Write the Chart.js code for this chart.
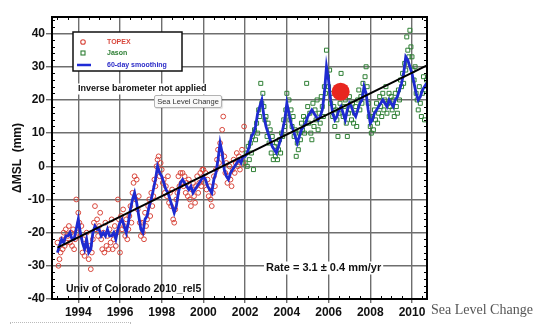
<!DOCTYPE html>
<html>
<head>
<meta charset="utf-8">
<script src="https://cdn.jsdelivr.net/npm/chart.js@4.4.1/dist/chart.umd.min.js"></script>
<style>
  html, body { margin: 0; padding: 0; background: #fff; }
  #wrap { position: relative; width: 540px; height: 325px; overflow: hidden; }
  #msl { position: absolute; left: 0; top: 0; }
  #tip { position: absolute; left: 154px; top: 95px; width: 66px; height: 11px; border: 1px solid #b3b3b3; border-radius: 2px;
         background: #f9f9f9; font: 7.5px "Liberation Sans", Arial, sans-serif; color: #333; line-height: 11px; text-align: center;
         box-shadow: 1px 1px 1px rgba(0,0,0,0.12); white-space: nowrap; }
  #caption { position: absolute; left: 431px; top: 302px; font: 14px "Liberation Serif", "DejaVu Serif", serif; color: #555;
             line-height: 16px; white-space: nowrap; }
  #dots { position: absolute; left: 10px; top: 322px; width: 119px; height: 20px; border: 1px dotted #bbb; }
</style>
</head>
<body>
<div id="wrap">
  <canvas id="msl" width="540" height="325"></canvas>
  <div id="tip">Sea Level Change</div>
  <div id="caption">Sea Level Change</div>
  <div id="dots"></div>
</div>
<script>
// Global mean sea level change (mm), TOPEX and Jason altimetry, 1993–2010.

// Altimeter samples: one value every 0.05 yr.
const sampleStep = 0.05;

const topexStart = 1993.0;
const topexMSL = [
  // 1993
  -23, -30, -28, -26, -22, -25, -20, -24, -19, -23, -21, -18, -23, -20, -24, -19, -25, -22, -10, -20,
  // 1994
  -14, -17, -21, -18, -26, -22, -27, -24, -20, -25, -28, -24, -31, -26, -22, -17, -12, -19, -16, -21,
  // 1995
  -18, -14, -22, -25, -20, -26, -17, -24, -21, -25, -19, -23, -16, -25, -22, -18, -24, -20, -10, -16,
  // 1996
  -26, -15, -19, -13, -18, -21, -16, -22, -19, -15, -12, -17, -8, -5, -3, -10, -4, -13, -9, -17,
  // 1997
  -21, -17, -20, -22, -14, -18, -16, -12, -10, -15, -8, -12, -9, -4, -6, 0, 2, 3, -3, 1,
  // 1998
  -1, -5, -4, -8, -6, -9, -3, -11, -8, -12, -7, -16, -17, -13, -10, -8, -3, -6, -2, -5,
  // 1999
  -2, -6, -3, -8, -5, -9, -4, -10, -12, -7, -5, -9, -11, -6, -3, -8, -5, -2, -6, -1,
  // 2000
  -1, -5, -2, -7, -4, -9, -6, -10, -12, -8, -3, -6, -1, 2, 5, 1, 7, 4, 11, 15,
  // 2001
  3, -2, 1, -5, -3, 0, -4, -6, -1, 2, -2, 1, 4, 0, 3, -1, 2, 5, 1, 12
];

const jasonStart = 2002.0;
const jasonMSL = [
  // 2002
  1, 4, 0, 6, 2, 7, 4, 9, -1, 11, 8, 13, 10, 17, 15, 25, 19, 22, 18, 14,
  // 2003
  15, 9, 13, 7, 11, 4, 9, 2, 6, 3, 7, 2, 5, 8, 4, 10, 9, 14, 12, 17,
  // 2004
  22, 16, 20, 14, 17, 12, 15, 9, 11, 3, 7, 5, 10, 8, 13, 11, 15, 10, 14, 25,
  // 2005
  18, 13, 16, 10, 8, 19, 12, 17, 14, 20, 11, 16, 13, 21, 18, 15, 24, 22, 35, 27,
  // 2006
  24, 29, 19, 22, 15, 18, 12, 17, 14, 9, 16, 19, 28, 21, 15, 18, 20, 13, 9, 16,
  // 2007
  21, 17, 14, 19, 13, 16, 18, 12, 20, 23, 17, 21, 19, 25, 22, 27, 30, 24, 19, 15,
  // 2008
  12, 10, 15, 11, 17, 14, 19, 13, 16, 21, 18, 15, 22, 17, 20, 24, 16, 19, 22, 18,
  // 2009
  21, 17, 20, 15, 22, 18, 16, 23, 20, 26, 24, 28, 25, 31, 29, 39, 35, 33, 41, 36,
  // 2010
  33, 29, 26, 30, 22, 20, 17, 24, 19, 15, 22, 27, 14, 23, 26
];

// 60-day smoothed series, one value every 0.1 yr from 1993.0.
const smoothStart = 1993.0;
const smoothStep = 0.1;
const smoothMSL = [
  -26, -24, -22, -23, -21, -21, -20, -22, -22, -19,   // 1993
  -16, -20, -23, -25, -22, -26, -25, -20, -18, -19,   // 1994
  -19, -21, -20, -21, -19, -21, -21, -20, -22, -19,   // 1995
  -17, -16, -18, -20, -17, -13, -10, -8, -11, -15,    // 1996
  -19, -20, -16, -15, -12, -10, -7, -4, 0, -2,        // 1997
  -3, -5, -7, -8, -10, -12, -14, -12, -8, -5,         // 1998
  -4, -5, -6, -7, -6, -8, -7, -6, -5, -4,             // 1999
  -3, -4, -6, -7, -8, -4, -2, 2, 7, 4,                // 2000
  -1, -3, -4, -2, -1, 0, 1, 2, 1, 3,                  // 2001
  3, 4, 6, 9, 10, 12, 16, 18, 20, 15,                 // 2002
  12, 10, 8, 6, 5, 4, 6, 8, 11, 14,                   // 2003
  19, 16, 13, 11, 9, 7, 9, 11, 12, 13,                // 2004
  15, 16, 17, 16, 15, 14, 15, 17, 22, 30,             // 2005
  26, 20, 16, 14, 15, 17, 18, 16, 14, 17,             // 2006
  19, 18, 16, 15, 17, 19, 20, 24, 22, 17,             // 2007
  13, 14, 16, 17, 18, 19, 20, 19, 18, 20,             // 2008
  19, 18, 20, 21, 23, 25, 28, 33, 32, 30,             // 2009
  28, 25, 22, 20, 21, 23, 24, 25                      // 2010
];

// Linear trend: Rate = 3.1 mm/yr
const trendRate = 3.1;
const trendStartYear = 1993.0;
const trendStartMSL = -24.5;
const trendEndYear = 2010.72;

// Highlighted point
const markerYear = 2006.58;
const markerMSL = 22.5;

// Axes
const yearMin = 1992.74, yearMax = 2010.72;
const mslMin = -40, mslMax = 45;
const yearTicks = [1994, 1996, 1998, 2000, 2002, 2004, 2006, 2008, 2010];
const mslTicks = [-40, -30, -20, -10, 0, 10, 20, 30, 40];

const toPoints = (start, step, vals) =>
  vals.map((v, i) => ({ x: +(start + i * step).toFixed(3), y: v }));

const topexPts = toPoints(topexStart, sampleStep, topexMSL);
const jasonPts = toPoints(jasonStart, sampleStep, jasonMSL);
const smoothPts = toPoints(smoothStart, smoothStep, smoothMSL);
const trendPts = [
  { x: trendStartYear, y: trendStartMSL },
  { x: trendEndYear, y: trendStartMSL + trendRate * (trendEndYear - trendStartYear) }
];

const SANS = '"Liberation Sans", Arial, sans-serif';

// Frame, minor ticks, legend and annotations
const overlay = {
  id: 'overlay',
  afterDraw(chart) {
    const { ctx, chartArea: a, scales: { x, y } } = chart;
    ctx.save();

    // minor ticks (inside the frame)
    ctx.strokeStyle = '#000';
    ctx.lineWidth = 1;
    ctx.beginPath();
    for (let v = -38; v < mslMax; v += 2) {
      if (v % 10 === 0) continue;
      const py = Math.round(y.getPixelForValue(v)) + 0.5;
      ctx.moveTo(a.left, py); ctx.lineTo(a.left + 3, py);
      ctx.moveTo(a.right, py); ctx.lineTo(a.right - 3, py);
    }
    for (let v = 1993; v < yearMax; v += 0.5) {
      if (v % 2 === 0) continue;
      const px = Math.round(x.getPixelForValue(v)) + 0.5;
      ctx.moveTo(px, a.bottom); ctx.lineTo(px, a.bottom - 3);
      ctx.moveTo(px, a.top); ctx.lineTo(px, a.top + 3);
    }
    ctx.stroke();

    // frame
    ctx.lineWidth = 2;
    ctx.strokeStyle = '#000';
    ctx.strokeRect(a.left, a.top, a.right - a.left, a.bottom - a.top);

    // legend box
    const lx = a.left + 21, ly = a.top + 15, lw = 109, lh = 39;
    ctx.fillStyle = '#fff';
    ctx.fillRect(lx, ly, lw, lh);
    ctx.lineWidth = 1.5;
    ctx.strokeStyle = '#111';
    ctx.strokeRect(lx, ly, lw, lh);

    ctx.lineWidth = 1.1;
    ctx.strokeStyle = '#d8473c';
    ctx.beginPath(); ctx.arc(lx + 10, ly + 10, 2.3, 0, Math.PI * 2); ctx.stroke();
    ctx.strokeStyle = '#2e7f34';
    ctx.strokeRect(lx + 8, ly + 19, 4, 4);
    ctx.strokeStyle = '#1f2bd6';
    ctx.lineWidth = 2.5;
    ctx.beginPath(); ctx.moveTo(lx + 4, ly + 33); ctx.lineTo(lx + 18, ly + 33); ctx.stroke();

    ctx.font = 'bold 7px ' + SANS;
    ctx.textBaseline = 'middle';
    ctx.textAlign = 'left';
    ctx.fillStyle = '#d8473c'; ctx.fillText('TOPEX', lx + 34, ly + 10);
    ctx.fillStyle = '#2e7f34'; ctx.fillText('Jason', lx + 34, ly + 21);
    ctx.fillStyle = '#2b2bc8'; ctx.fillText('60-day smoothing', lx + 34, ly + 33);

    // annotations
    const label = (text, px, py, size, bg) => {
      ctx.font = 'bold ' + size + 'px ' + SANS;
      const w = ctx.measureText(text).width;
      if (bg) {
        ctx.fillStyle = '#fff';
        ctx.fillRect(px - 2, py - size / 2 - 1, w + 4, size + 2);
      }
      ctx.fillStyle = '#111';
      ctx.fillText(text, px, py);
    };
    label('Inverse barometer not applied', a.left + 26, a.top + 72, 9, true);
    label('Rate = 3.1 \u00B1 0.4 mm/yr', a.left + 214, a.top + 251, 11, true);
    label('Univ of Colorado 2010_rel5', a.left + 14, a.top + 272, 10.5, false);

    ctx.restore();
  }
};

new Chart(document.getElementById('msl'), {
  type: 'scatter',
  data: {
    datasets: [
      {
        label: 'marker',
        data: [{ x: markerYear, y: markerMSL }],
        pointRadius: 9,
        pointBackgroundColor: '#e8261f',
        pointBorderWidth: 0
      },
      {
        label: 'trend',
        data: trendPts,
        showLine: true,
        borderColor: '#000',
        borderWidth: 2,
        pointRadius: 0
      },
      {
        label: '60-day smoothing',
        data: smoothPts,
        showLine: true,
        borderColor: '#1e2ad0',
        borderWidth: 2.8,
        tension: 0,
        pointRadius: 0
      },
      {
        label: 'Jason',
        data: jasonPts,
        pointStyle: 'rect',
        pointRadius: 2.8,
        pointBorderColor: '#2e7f34',
        pointBackgroundColor: 'rgba(0,0,0,0)',
        pointBorderWidth: 1
      },
      {
        label: 'TOPEX',
        data: topexPts,
        pointStyle: 'circle',
        pointRadius: 2.4,
        pointBorderColor: '#d8473c',
        pointBackgroundColor: 'rgba(0,0,0,0)',
        pointBorderWidth: 1
      }
    ]
  },
  options: {
    responsive: false,
    animation: false,
    devicePixelRatio: 1,
    events: [],
    layout: { padding: { left: 0, top: 17, right: 113, bottom: 0 } },
    plugins: { legend: { display: false }, tooltip: { enabled: false } },
    scales: {
      x: {
        type: 'linear',
        min: yearMin,
        max: yearMax,
        afterBuildTicks: s => { s.ticks = yearTicks.map(v => ({ value: v })); },
        afterFit: s => { s.height = 26; },
        grid: { color: '#6e6e6e', lineWidth: 1.4, tickLength: 4, drawTicks: true },
        border: { display: true, color: '#000', width: 2 },
        ticks: {
          color: '#111',
          padding: 2,
          maxRotation: 0,
          font: { family: SANS, size: 12, weight: 'bold' },
          callback: v => String(v)
        }
      },
      y: {
        type: 'linear',
        min: mslMin,
        max: mslMax,
        afterBuildTicks: s => { s.ticks = mslTicks.map(v => ({ value: v })); },
        afterFit: s => { s.width = 52; },
        grid: { color: '#6e6e6e', lineWidth: 1.4, tickLength: 6, drawTicks: true },
        border: { display: true, color: '#000', width: 2 },
        ticks: {
          color: '#111',
          padding: 1,
          font: { family: SANS, size: 12, weight: 'bold' },
          callback: v => String(v)
        },
        title: {
          display: true,
          text: '\u0394MSL  (mm)',
          color: '#111',
          padding: { top: 10, bottom: 0 },
          font: { family: SANS, size: 12, weight: 'bold' }
        }
      }
    }
  },
  plugins: [overlay]
});
</script>
</body>
</html>
